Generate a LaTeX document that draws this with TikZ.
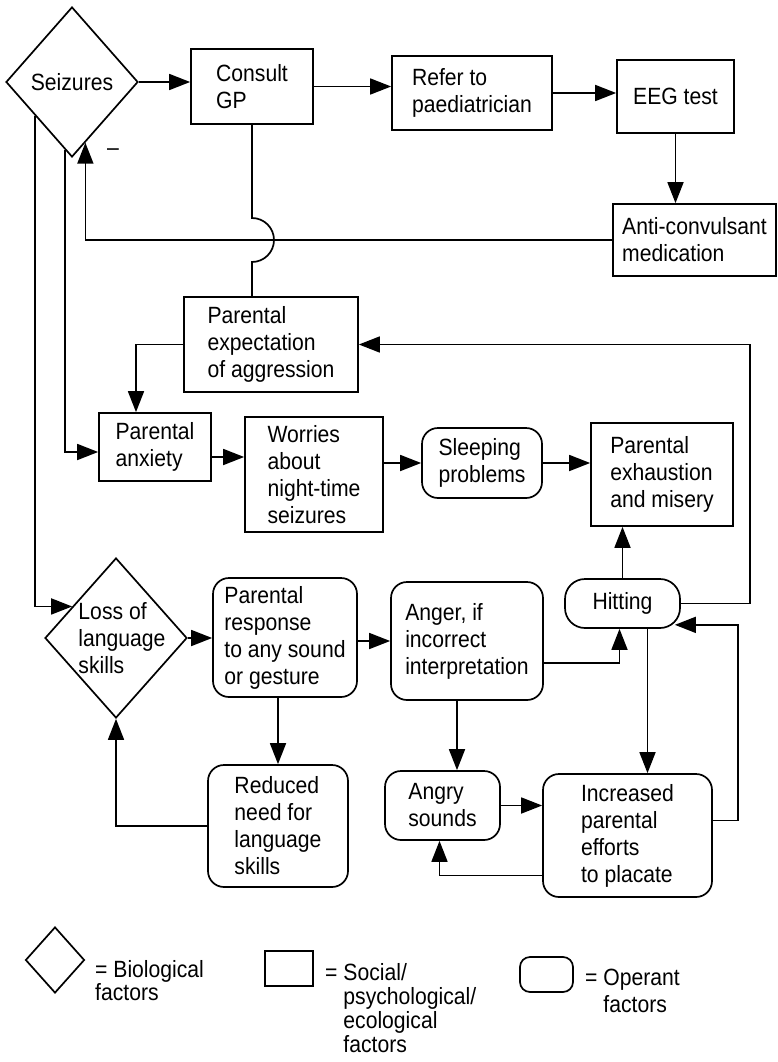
\documentclass[tikz,border=0pt]{standalone}
\usepackage{fontspec}
\setmainfont{Liberation Sans}[FakeStretch=0.9]
\usetikzlibrary{arrows.meta,shapes.geometric,calc}
\begin{document}
\begin{tikzpicture}[x=1pt,y=-1pt,
  every node/.style={font=\fontsize{23.5}{27}\selectfont, inner sep=0pt, align=left},
  line/.style={line width=1.7pt},
  arr/.style={line width=1.7pt, -{Triangle[length=21pt,width=16pt]}},
  social/.style={draw, line width=1.7pt, rectangle},
  operant/.style={draw, line width=1.7pt, rectangle, rounded corners=16pt},
  bio/.style={draw, line width=1.7pt, diamond},
  sz/.style 2 args={minimum width=#1pt, minimum height=#2pt},
  keytext/.style={font=\fontsize{23.5}{24}\selectfont}]

\useasboundingbox (0,0) rectangle (778,1062);

% ---- boxes ----
\node[bio, sz={132}{150}] (seiz) at (72,82) {};
\node (seizT) at (seiz.center) {Seizures};
\node[social, sz={122}{75}] (consult) at (252,86.5) {Consult\\GP};
\node[social, sz={160}{74}] (refer) at (472,93) {Refer to\\paediatrician};
\node[social, sz={117}{73}] (eeg) at (675.5,96.5) {EEG test};
\node[social, sz={163}{72}] (anti) at (694.5,240) {Anti-convulsant\\medication};
\node[social, sz={174}{95}] (expect) at (271,344.5) {Parental\\expectation\\of aggression};
\node[social, sz={112}{68}] (anx) at (155,447) {Parental\\anxiety};
\node[social, sz={138}{115}] (worry) at (314,474.5) {Worries\\about\\night-time\\seizures};
\node[operant, sz={120}{70}] (sleep) at (482,463) {Sleeping\\problems};
\node[social, sz={142}{103}] (exh) at (662,474.5) {Parental\\exhaustion\\and misery};
\node[bio, sz={142}{160}] (loss) at (116,638) {};
\node (lossT) at (122,638) {Loss of\\language\\skills};
\node[operant, sz={144}{119}] (resp) at (285,637.5) {Parental\\response\\to any sound\\or gesture};
\node[operant, sz={140}{122}] (reduced) at (278,826) {Reduced\\need for\\language\\skills};
\node[operant, sz={152}{118}] (anger) at (467,641) {Anger, if\\incorrect\\interpretation};
\node[operant, sz={115}{49}, rounded corners=20pt] (hit) at (622.5,603.5) {Hitting};
\node[operant, sz={115}{69}] (angry) at (442.5,805.5) {Angry\\sounds};
\node[operant, sz={169}{123}] (inc) at (627.5,835.5) {Increased\\parental\\efforts\\to placate};
\node (minus) at (113,152) {\textendash};

% ---- medical route ----
\draw[arr] (seiz.east) -- (seiz.east -| consult.west);
\draw[arr] (consult.east) -- (consult.east -| refer.west);
\draw[arr] (refer.east) -- (refer.east -| eeg.west);
\draw[arr] (eeg.south) -- (eeg.south |- anti.north);
% medication acts back on the seizures
\coordinate (fb) at ($(seiz.south)!0.2!(seiz.east)$);
\draw[arr] (anti.west) -| (fb);
% GP link to parental expectation, hopping over the feedback line
\coordinate (hop) at ($(consult.south |- anti.west)+(0,-22)$);
\draw[line] (consult.south) -- (hop) arc[start angle=90,end angle=-90,radius=22pt]
  -- (consult.south |- expect.north);

% ---- parental worries ----
\draw[arr] (expect.west) -| ([xshift=-19pt]anx.north);
\coordinate (sb) at ($(seiz.west)!0.9!(seiz.south)$);
\draw[arr] (sb) |- ([yshift=-5pt]anx.west);
\draw[arr] ([yshift=-10pt]anx.east) -- ([yshift=-10pt]anx.east -| worry.west);
\draw[arr] (worry.east |- sleep.west) -- (sleep.west);
\draw[arr] (sleep.east) -- (sleep.east -| exh.west);

% ---- language loss and behaviour ----
\coordinate (sl) at ($(seiz.west)!0.45!(seiz.south)$);
\coordinate (ll) at ($(loss.west)!0.39!(loss.north)$);
\draw[arr] (sl) |- (ll);
\draw[arr] (loss.east) -- (loss.east -| resp.west);
\draw[arr] (reduced.north |- resp.south) -- (reduced.north);
\draw[arr] (reduced.west) -| (loss.south);
\draw[arr] (anger.west -| resp.east) -- (anger.west);
\draw[arr] ([yshift=-22pt]anger.east) -| ([xshift=-3pt]hit.south);
\draw[arr] (hit.north) -- (hit.north |- exh.south);
\coordinate (xr1) at (750,0);
\draw[arr] (hit.east) -| (xr1 |- expect.east) -- (expect.east);
\draw[arr] ([xshift=25pt]hit.south) -- ([xshift=25pt]hit.south |- inc.north);
\coordinate (xr2) at (738,0);
\coordinate (hitin) at ([xshift=-6pt,yshift=4pt]hit.south east);
\draw[arr] ([yshift=15pt]inc.east) -| (xr2 |- hitin) -- (hitin);
\draw[arr] ([xshift=-10pt]anger.south) -- ([xshift=-10pt]anger.south |- angry.north);
\draw[arr] (angry.east) -- (angry.east -| inc.west);
\draw[arr] ([yshift=-40pt]inc.west) -| ([xshift=-3pt]angry.south);

% ---- key ----
\node[bio, sz={59}{66}] (kbio) at (55,960) {};
\node[keytext, anchor=west, font=\fontsize{23.5}{23}\selectfont] (kbioT) at (95,981) {= Biological\\factors};
\node[social, sz={48}{35}] (ksoc) at (289,968.5) {};
\node[keytext, anchor=north west] (ksocT) at (325,963) {= Social/\\\hphantom{= }psychological/\\\hphantom{= }ecological\\\hphantom{= }factors};
\node[operant, rounded corners=10pt, sz={53}{35}] (kop) at (546.5,974.5) {};
\node[anchor=north west] (kopT) at (585,969) {= Operant\\\hphantom{= }factors};
\end{tikzpicture}
\end{document}
